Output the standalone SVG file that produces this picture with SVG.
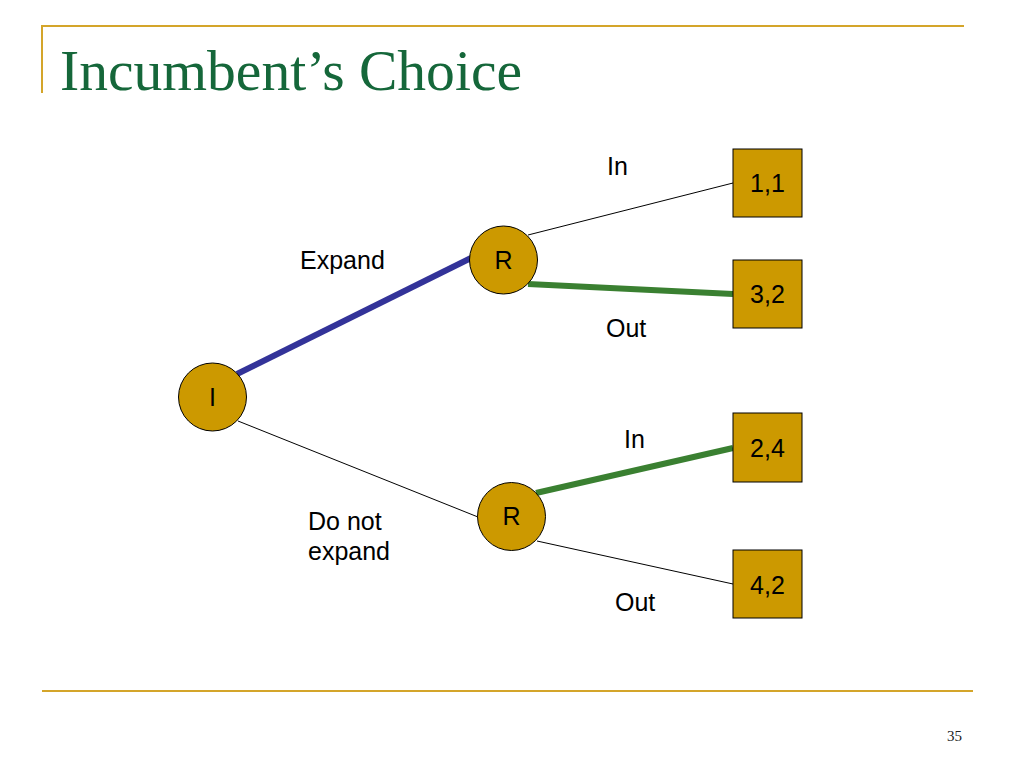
<svg xmlns="http://www.w3.org/2000/svg" width="1024" height="768" viewBox="0 0 1024 768">
<style>
.rule{stroke:#D4A52A;stroke-width:2;fill:none}
.node{fill:#CC9900;stroke:#000;stroke-width:1}
.lbl{font-family:"Liberation Sans",Arial,sans-serif;font-size:25px;fill:#000}
.ctr{text-anchor:middle}
.thin{stroke:#000;stroke-width:1;fill:none}
.blue{stroke:#333399;stroke-width:6;fill:none}
.green{stroke:#3A8031;stroke-width:6;fill:none}
</style>
<rect width="1024" height="768" fill="#fff"/>
<g id="frame">
<polyline class="rule" points="42,93 42,26 964,26"/>
<line class="rule" x1="42" y1="691" x2="973" y2="691"/>
<text x="60" y="90" font-family="'Liberation Serif','Times New Roman',serif" font-size="56" fill="#15673A" textLength="462" lengthAdjust="spacingAndGlyphs">Incumbent’s Choice</text>
<text x="947" y="741" font-family="'Liberation Serif','Times New Roman',serif" font-size="15" fill="#222">35</text>
</g>
<g id="connectors">
<line class="blue" x1="237" y1="374" x2="471" y2="258"/>
<line class="thin" x1="238" y1="421" x2="478" y2="517"/>
<line class="thin" x1="528" y1="235" x2="733" y2="183"/>
<line class="green" x1="528" y1="284" x2="733" y2="294"/>
<line class="green" x1="536" y1="493" x2="733" y2="448"/>
<line class="thin" x1="537" y1="541" x2="733" y2="584"/>
</g>
<g id="edge-labels">
<text class="lbl" x="300" y="269">Expand</text>
<text class="lbl" x="308" y="530">Do not</text>
<text class="lbl" x="308" y="560">expand</text>
<text class="lbl" x="607" y="175">In</text>
<text class="lbl" x="606" y="337">Out</text>
<text class="lbl" x="624" y="448">In</text>
<text class="lbl" x="615" y="611">Out</text>
</g>
<g id="node-I">
<circle class="node" cx="212.5" cy="397" r="34"/>
<text class="lbl ctr" x="212.5" y="406">I</text>
</g>
<g id="node-R1">
<circle class="node" cx="503.5" cy="260" r="34"/>
<text class="lbl ctr" x="503.5" y="269">R</text>
</g>
<g id="node-R2">
<circle class="node" cx="511.5" cy="516.5" r="34"/>
<text class="lbl ctr" x="511.5" y="525">R</text>
</g>
<g id="leaf-11">
<rect class="node" x="733" y="149" width="69" height="68"/>
<text class="lbl ctr" x="767.5" y="192">1,1</text>
</g>
<g id="leaf-32">
<rect class="node" x="733" y="260" width="69" height="68"/>
<text class="lbl ctr" x="767.5" y="303">3,2</text>
</g>
<g id="leaf-24">
<rect class="node" x="733" y="413" width="69" height="69"/>
<text class="lbl ctr" x="767.5" y="457">2,4</text>
</g>
<g id="leaf-42">
<rect class="node" x="733" y="550" width="69" height="68"/>
<text class="lbl ctr" x="767.5" y="594">4,2</text>
</g>
</svg>
